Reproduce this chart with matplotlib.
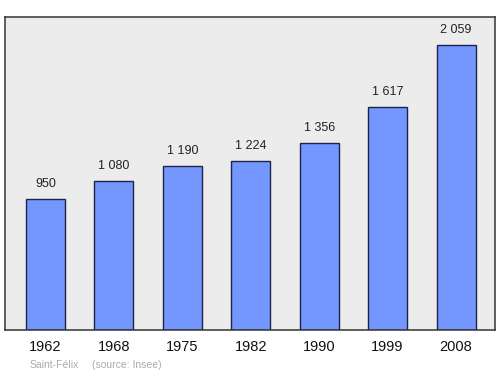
import matplotlib
matplotlib.use("Agg")
import matplotlib.pyplot as plt

years = ["1962", "1968", "1975", "1982", "1990", "1999", "2008"]
population = [950, 1080, 1190, 1224, 1356, 1617, 2059]
value_labels = ["950", "1 080", "1 190", "1 224", "1 356", "1 617", "2 059"]

plt.rcParams['font.family'] = ['Liberation Sans', 'DejaVu Sans']

fig = plt.figure(figsize=(5.0, 3.74), dpi=100)
ax = fig.add_axes([5/500, 1 - 330/374, 490/500, 313/374])
ax.set_facecolor("#ececec")

x = list(range(len(years)))
ax.bar(x, population, width=0.57, color="#7396ff", edgecolor="#1e2448", linewidth=1.0, zorder=2)

ax.set_xlim(-0.592, 6.57)
ax.set_ylim(0, 2265)

for xi, v, lab in zip(x, population, value_labels):
    ax.annotate(lab, (xi, v), xytext=(0, 9), textcoords="offset pixels",
                ha="center", va="bottom", fontsize=9, color="#222222")

ax.set_xticks(x)
ax.set_xticklabels(years, fontsize=10.5, color="#111111")
ax.tick_params(axis="x", length=0, pad=7)
ax.set_yticks([])

for s in ax.spines.values():
    s.set_color("#333333")
    s.set_linewidth(1.1)

fig.text(30/500, 1 - 365/374, "Saint-Félix", fontsize=7.5, color="#aaaaaa", ha="left", va="center")
fig.text(92/500, 1 - 365/374, "(source: Insee)", fontsize=7.5, color="#aaaaaa", ha="left", va="center")

fig.savefig("out.png", dpi=100)
